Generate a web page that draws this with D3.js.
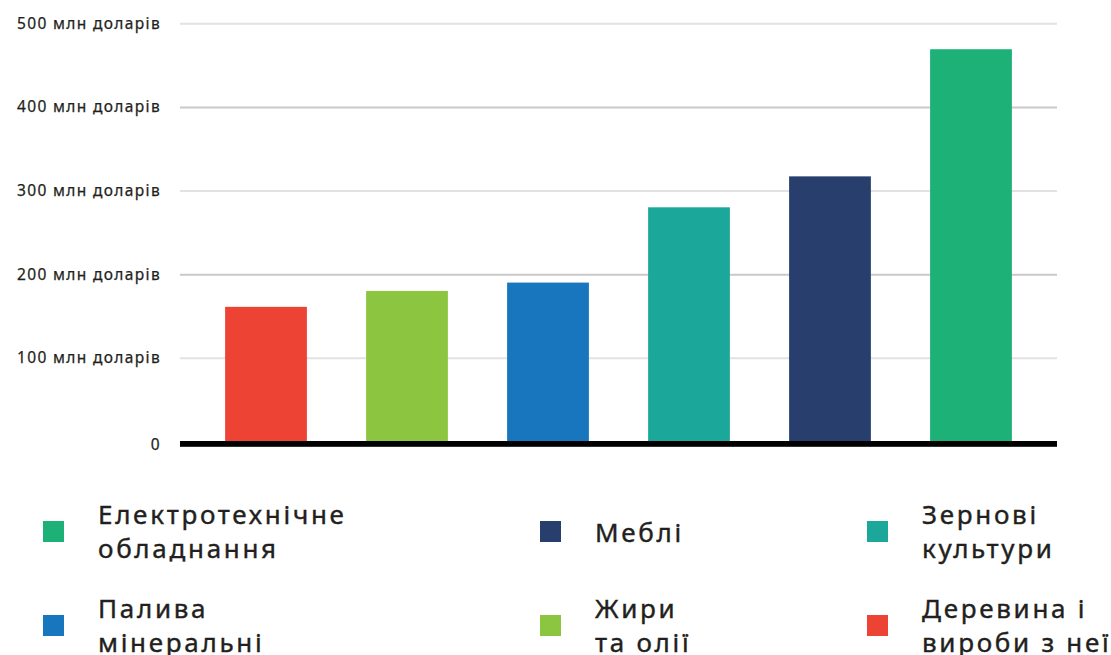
<!DOCTYPE html>
<html>
<head>
<meta charset="utf-8">
<script src="https://cdn.jsdelivr.net/npm/d3@7"></script>
<style>
  html, body { margin: 0; padding: 0; background: #fff; }
  svg { display: block; }
  text { font-family: "Noto Sans", "Open Sans", sans-serif; fill: #231f20; }
</style>
</head>
<body>
<svg id="chart" width="1111" height="655"></svg>
<script>
// ---- data ----
const categories = ["Деревина і вироби з неї", "Жири та олії", "Палива мінеральні", "Зернові культури", "Меблі", "Електротехнічне обладнання"];
const values = [161, 180, 190, 280, 317, 469]; // млн доларів
const colors = ["#ec4335", "#8cc640", "#1776be", "#1ca79b", "#283f6d", "#1db177"];
const tickValues = [0, 100, 200, 300, 400, 500];
const tickLabels = ["0", "100 млн доларів", "200 млн доларів", "300 млн доларів", "400 млн доларів", "500 млн доларів"];
// legend: order and wrapped lines
const legendOrder = ["Електротехнічне обладнання", "Меблі", "Зернові культури", "Палива мінеральні", "Жири та олії", "Деревина і вироби з неї"];
const legendLines = [["Електротехнічне", "обладнання"], ["Меблі"], ["Зернові", "культури"], ["Палива", "мінеральні"], ["Жири", "та олії"], ["Деревина і", "вироби з неї"]];

(function () {
// ---- layout ----
const svg = d3.select("#chart");
const mLeft = 180, mRight = 1057, mTop = 23.3, mBottom = 441.5;

const x = d3.scaleBand().domain(categories).range([mLeft, mRight]).paddingInner(0.42).paddingOuter(0.32);
const y = d3.scaleLinear().domain([0, 500]).range([mBottom, mTop]);

// gridlines
const grid = svg.append("g").attr("transform", `translate(${mLeft},0)`)
  .call(d3.axisLeft(y).tickValues(tickValues.filter(d => d > 0)).tickSize(-(mRight - mLeft)).tickFormat(""));
grid.select(".domain").remove();
grid.selectAll(".tick line")
  .attr("stroke", d => (d % 200 === 0 ? "#c9c9c9" : "#e2e2e2"))
  .attr("stroke-width", 2);

// y tick labels
const yAxis = svg.append("g").attr("transform", `translate(${mLeft - 19},0)`)
  .call(d3.axisLeft(y).tickValues(tickValues).tickSize(0).tickPadding(0)
    .tickFormat((d, i) => tickLabels[i]));
yAxis.select(".domain").remove();
yAxis.selectAll(".tick text")
  .attr("font-size", 15.5)
  .attr("letter-spacing", "1.35px")
  .attr("font-family", "'Noto Sans', sans-serif")
  .attr("fill", "#231f20")
  .attr("stroke", "#231f20")
  .attr("stroke-width", 0.25)
  .attr("dy", (d) => d === 0 ? "0.5em" : "0.32em");

// bars
svg.append("g").selectAll("rect").data(categories).join("rect")
  .attr("x", d => x(d))
  .attr("width", x.bandwidth())
  .attr("y", (d, i) => y(values[i]))
  .attr("height", (d, i) => y(0) - y(values[i]))
  .attr("fill", (d, i) => colors[i]);

// zero line
svg.append("rect")
  .attr("x", mLeft).attr("width", mRight - mLeft)
  .attr("y", y(0) - 0.5).attr("height", 5.8)
  .attr("fill", "#000");

// legend
const colorOf = c => colors[categories.indexOf(c)];
const colX = [43, 540, 867];
const rowY = [521, 615];
const sq = 21;
const lg = svg.append("g");
legendOrder.forEach((c, i) => {
  const col = i % 3, row = Math.floor(i / 3);
  const gx = colX[col], gy = rowY[row];
  lg.append("rect").attr("x", gx).attr("y", gy).attr("width", sq).attr("height", sq).attr("fill", colorOf(c));
  const lines = legendLines[i];
  const cy = gy + sq / 2;
  const t = lg.append("text").attr("x", gx + 55).attr("font-size", 26)
    .attr("letter-spacing", "2.7px").attr("fill", "#231f20")
    .attr("stroke", "#231f20").attr("stroke-width", 0.4);
  if (lines.length === 1) {
    t.append("tspan").attr("x", gx + 55).attr("y", cy + 10).text(lines[0]);
  } else {
    t.append("tspan").attr("x", gx + 55).attr("y", cy - 7.5).text(lines[0]);
    t.append("tspan").attr("x", gx + 55).attr("y", cy + 26.5).text(lines[1]);
  }
});
})();
</script>
</body>
</html>
